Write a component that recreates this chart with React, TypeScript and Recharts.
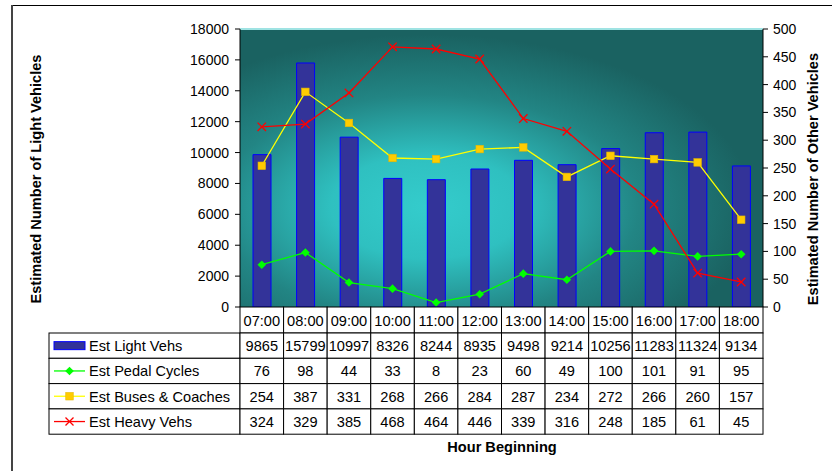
import React from "react";
import { ComposedChart, Bar, Line, XAxis, YAxis, CartesianGrid, ReferenceLine } from "recharts";

const hours = ["07:00", "08:00", "09:00", "10:00", "11:00", "12:00", "13:00", "14:00", "15:00", "16:00", "17:00", "18:00"];
const lightVehs = [9865, 15799, 10997, 8326, 8244, 8935, 9498, 9214, 10256, 11283, 11324, 9134];
const pedalCycles = [76, 98, 44, 33, 8, 23, 60, 49, 100, 101, 91, 95];
const busesCoaches = [254, 387, 331, 268, 266, 284, 287, 234, 272, 266, 260, 157];
const heavyVehs = [324, 329, 385, 468, 464, 446, 339, 316, 248, 185, 61, 45];
const lightTicks = [0, 2000, 4000, 6000, 8000, 10000, 12000, 14000, 16000, 18000];
const otherTicks = [0, 50, 100, 150, 200, 250, 300, 350, 400, 450, 500];
const seriesNames = ["Est Light Vehs", "Est Pedal Cycles", "Est Buses & Coaches", "Est Heavy Vehs"];

const data = hours.map((hour, i) => ({
  hour,
  light: lightVehs[i],
  pedal: pedalCycles[i],
  buses: busesCoaches[i],
  heavy: heavyVehs[i],
}));

const FONT = "'Liberation Sans', Arial, sans-serif";
const PLOT_W = 523;
const COL_W = PLOT_W / hours.length;
const HEAD_H = 26;
const ROW_H = 25.3;
const LEGEND_LEFT = 49;
const TABLE_FS = 14.6;

const Diamond = ({ cx, cy, color, r = 4.3 }: any) => (
  <polygon
    points={`${cx},${cy - r} ${cx + r},${cy} ${cx},${cy + r} ${cx - r},${cy}`}
    fill={color}
  />
);

const Square = ({ cx, cy, s = 7.5 }: any) => (
  <rect x={cx - s / 2} y={cy - s / 2} width={s} height={s} fill="#ffcc00" stroke="#e6b800" strokeWidth={0.6} />
);

const Cross = ({ cx, cy, s = 4.2 }: any) => (
  <g stroke="#ff0000" strokeWidth={1.3}>
    <line x1={cx - s} y1={cy - s} x2={cx + s} y2={cy + s} />
    <line x1={cx - s} y1={cy + s} x2={cx + s} y2={cy - s} />
  </g>
);

// legend keys drawn in the left-hand column of the data table
const LegendColumn = ({ right, top }: { right: number; top: number }) => {
  const w = right - LEGEND_LEFT;
  const keyL = 54;
  const keyR = 85;
  const mid = (keyL + keyR) / 2;
  return (
    <g>
      {seriesNames.map((name, r) => {
        const y0 = top + r * ROW_H;
        const cy = y0 + ROW_H / 2;
        return (
          <g key={name}>
            <rect x={LEGEND_LEFT} y={y0} width={w} height={ROW_H} fill="#fff" stroke="#000" />
            {r === 0 && (
              <rect x={keyL} y={cy - 4} width={keyR - keyL} height={8} fill="#333399" stroke="#0000ff" />
            )}
            {r === 1 && (
              <g>
                <line x1={keyL} y1={cy} x2={keyR} y2={cy} stroke="#00ff00" strokeWidth={1.3} />
                <Diamond cx={mid} cy={cy} color="#00ff00" />
              </g>
            )}
            {r === 2 && (
              <g>
                <line x1={keyL} y1={cy} x2={keyR} y2={cy} stroke="#ffff00" strokeWidth={1.3} />
                <Square cx={mid} cy={cy} />
              </g>
            )}
            {r === 3 && (
              <g>
                <line x1={keyL} y1={cy} x2={keyR} y2={cy} stroke="#ff0000" strokeWidth={1.3} />
                <Cross cx={mid} cy={cy} s={4} />
              </g>
            )}
            <text x={89} y={y0 + 18} fontSize={TABLE_FS} fontFamily={FONT} fill="#000">
              {name}
            </text>
          </g>
        );
      })}
    </g>
  );
};

// each x tick renders one column of the data table beneath the plot
const TableColumn = (props: any) => {
  const { x, y, payload } = props;
  const i = payload.index;
  const left = x - COL_W / 2;
  const values = [lightVehs[i], pedalCycles[i], busesCoaches[i], heavyVehs[i]];
  return (
    <g>
      {i === 0 && <LegendColumn right={left} top={y + HEAD_H} />}
      <rect x={left} y={y} width={COL_W} height={HEAD_H} fill="#fff" stroke="#000" />
      <text x={x} y={y + 19} textAnchor="middle" fontSize={TABLE_FS} fontFamily={FONT} fill="#000">
        {payload.value}
      </text>
      {values.map((v, r) => {
        const y0 = y + HEAD_H + r * ROW_H;
        return (
          <g key={r}>
            <rect x={left} y={y0} width={COL_W} height={ROW_H} fill="#fff" stroke="#000" />
            <text x={x} y={y0 + 18} textAnchor="middle" fontSize={TABLE_FS} fontFamily={FONT} fill="#000">
              {v}
            </text>
          </g>
        );
      })}
    </g>
  );
};

const titleText = (text: string, tx: number, ty: number, angle = 0) => (
  <text
    x={tx}
    y={ty}
    transform={angle ? `rotate(${angle}, ${tx}, ${ty})` : undefined}
    textAnchor="middle"
    fontSize={14.6}
    fontWeight="bold"
    fontFamily={FONT}
    fill="#000"
  >
    {text}
  </text>
);

const tickStyle = { fill: "#000", fontSize: 14, fontFamily: FONT };

export default function App() {
  return (
    <div style={{ position: "fixed", left: 0, top: 0, width: 832, height: 471, overflow: "hidden", background: "#fff" }}>
      <div style={{ position: "absolute", left: 0, top: 0 }}>
        <ComposedChart
          width={832}
          height={471}
          data={data}
          margin={{ top: 29, right: 9, bottom: 20, left: 0 }}
          barSize={18}
        >
          <defs>
            <radialGradient id="plotBg" cx="0.36" cy="0.64" r="0.62" fx="0.36" fy="0.64">
              <stop offset="0%" stopColor="#34cccc" />
              <stop offset="30%" stopColor="#2fc0c0" />
              <stop offset="65%" stopColor="#228584" />
              <stop offset="100%" stopColor="#1a6261" />
            </radialGradient>
          </defs>
          <CartesianGrid horizontal={false} vertical={false} fill="url(#plotBg)" />
          <ReferenceLine yAxisId="left" y={18000} stroke="#9fe3e3" strokeWidth={2} />
          <XAxis
            dataKey="hour"
            height={144}
            tickSize={0}
            tickMargin={0}
            tickLine={false}
            axisLine={false}
            interval={0}
            tick={<TableColumn />}
            label={{ content: () => titleText("Hour Beginning", 502, 452) }}
          />
          <YAxis
            yAxisId="left"
            orientation="left"
            width={240}
            domain={[0, 18000]}
            ticks={lightTicks}
            interval={0}
            tickSize={5}
            tickMargin={6}
            tick={tickStyle}
            stroke="#000"
            label={{ content: () => titleText("Estimated Number of Light Vehicles", 41, 179, -90) }}
          />
          <YAxis
            yAxisId="right"
            orientation="right"
            width={60}
            domain={[0, 500]}
            ticks={otherTicks}
            interval={0}
            tickSize={5}
            tickMargin={5}
            tick={tickStyle}
            stroke="#000"
            label={{ content: () => titleText("Estimated Number of Other Vehicles", 818, 179, -90) }}
          />
          <Bar yAxisId="left" dataKey="light" fill="#333399" stroke="#0000ff" strokeWidth={1} isAnimationActive={false} />
          <Line
            yAxisId="right"
            dataKey="pedal"
            type="linear"
            stroke="#00ff00"
            strokeWidth={1.3}
            dot={(p: any) => <Diamond key={p.index} cx={p.cx} cy={p.cy} color="#00ff00" />}
            activeDot={false}
            isAnimationActive={false}
          />
          <Line
            yAxisId="right"
            dataKey="buses"
            type="linear"
            stroke="#ffff00"
            strokeWidth={1.3}
            dot={(p: any) => <Square key={p.index} cx={p.cx} cy={p.cy} />}
            activeDot={false}
            isAnimationActive={false}
          />
          <Line
            yAxisId="right"
            dataKey="heavy"
            type="linear"
            stroke="#ff0000"
            strokeWidth={1.3}
            dot={(p: any) => <Cross key={p.index} cx={p.cx} cy={p.cy} />}
            activeDot={false}
            isAnimationActive={false}
          />
        </ComposedChart>
      </div>
      {/* page frame */}
      <div style={{ position: "absolute", left: 11, top: 5, width: 830, height: 1, background: "#000", zIndex: 2 }} />
      <div style={{ position: "absolute", left: 11, top: 5, width: 2, height: 470, background: "#444", zIndex: 2 }} />
    </div>
  );
}
